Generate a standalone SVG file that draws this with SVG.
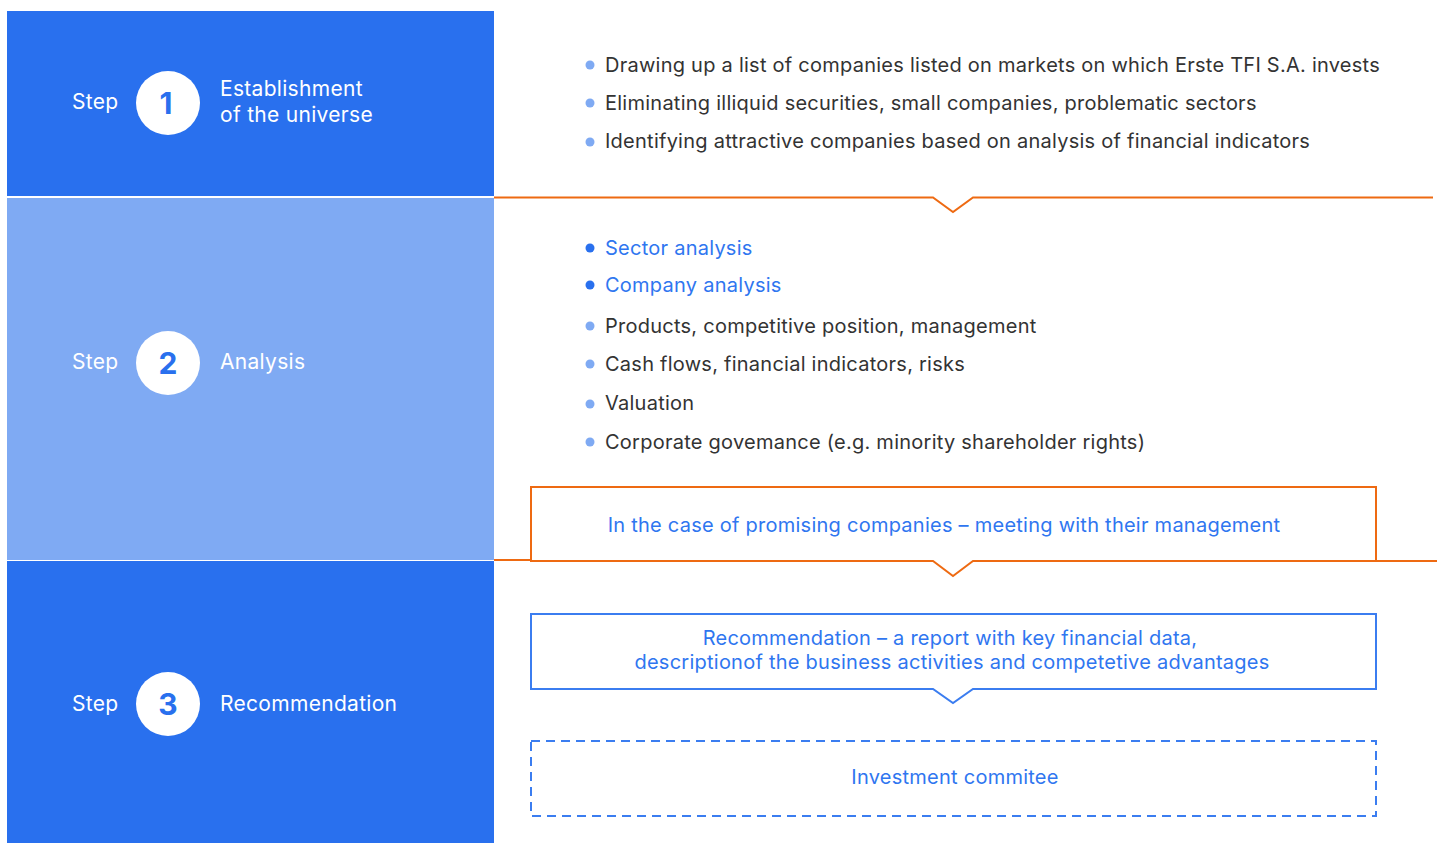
<svg xmlns="http://www.w3.org/2000/svg" width="1443" height="843" viewBox="0 0 1443 843">
<style>
text{font-family:Inter,"Noto Sans","Liberation Sans",sans-serif;font-size:20px;letter-spacing:0.25px}
.w{fill:#ffffff;font-size:21px;letter-spacing:0.3px}
.num{font-size:30px;font-weight:700;fill:#2970EE;text-anchor:middle;letter-spacing:0}
.g{fill:#333333}
.b{fill:#2F76F0}
.c{text-anchor:middle}
.dl{fill:#7FAAF3}
.dd{fill:#2970EE}
.or{fill:none;stroke:#EE6A12;stroke-width:2}
.bl{fill:none;stroke:#3B7DF0;stroke-width:2}
</style>
<rect width="1443" height="843" fill="#ffffff"/>
<g id="step1">
<rect x="7" y="11" width="487" height="185" fill="#2970EE"/>
<text x="72" y="109" class="w">Step</text>
<circle cx="168" cy="103" r="32" fill="#ffffff"/>
<text x="166" y="114" class="num">1</text>
<text x="220" y="96" class="w">Establishment</text>
<text x="220" y="122" class="w">of the universe</text>
</g>
<g id="step2">
<rect x="7" y="198" width="487" height="362" fill="#7FAAF3"/>
<text x="72" y="369" class="w">Step</text>
<circle cx="168" cy="363" r="32" fill="#ffffff"/>
<text x="168" y="374" class="num">2</text>
<text x="220" y="369" class="w">Analysis</text>
</g>
<g id="step3">
<rect x="7" y="561" width="487" height="282" fill="#2970EE"/>
<text x="72" y="711" class="w">Step</text>
<circle cx="168" cy="704" r="32" fill="#ffffff"/>
<text x="168" y="715" class="num">3</text>
<text x="220" y="711" class="w">Recommendation</text>
</g>
<g id="list1">
<circle cx="590" cy="65" r="4.5" class="dl"/>
<text x="605" y="72" class="g">Drawing up a list of companies listed on markets on which Erste TFI S.A. invests</text>
<circle cx="590" cy="103" r="4.5" class="dl"/>
<text x="605" y="110" class="g">Eliminating illiquid securities, small companies, problematic sectors</text>
<circle cx="590" cy="142" r="4.5" class="dl"/>
<text x="605" y="148" class="g">Identifying attractive companies based on analysis of financial indicators</text>
</g>
<g id="list2">
<circle cx="590" cy="248" r="4.5" class="dd"/>
<text x="605" y="255" class="b">Sector analysis</text>
<circle cx="590" cy="285" r="4.5" class="dd"/>
<text x="605" y="292" class="b">Company analysis</text>
<circle cx="590" cy="326" r="4.5" class="dl"/>
<text x="605" y="333" class="g">Products, competitive position, management</text>
<circle cx="590" cy="364" r="4.5" class="dl"/>
<text x="605" y="371" class="g">Cash flows, financial indicators, risks</text>
<circle cx="590" cy="404" r="4.5" class="dl"/>
<text x="605" y="410" class="g">Valuation</text>
<circle cx="590" cy="442" r="4.5" class="dl"/>
<text x="605" y="449" class="g">Corporate govemance (e.g. minority shareholder rights)</text>
</g>
<g id="connectors">
<path class="or" d="M494 197.5 H933 L953 212 L973 197.5 H1433"/>
<path class="or" d="M494 560 H531"/>
<path class="or" d="M1376 561 H1437"/>
</g>
<g id="meeting">
<path class="or" d="M531 487 H1376 V561 H973 L953 576 L933 561 H531 Z"/>
<text x="944" y="532" class="b c">In the case of promising companies – meeting with their management</text>
</g>
<g id="recommendation">
<path class="bl" d="M531 614 H1376 V689 H973 L953 703 L933 689 H531 Z"/>
<text x="950" y="645" class="b c">Recommendation – a report with key financial data,</text>
<text x="952" y="669" class="b c">descriptionof the business activities and competetive advantages</text>
</g>
<g id="committee">
<rect x="531" y="741" width="845" height="75" class="bl" stroke-dasharray="9 6"/>
<text x="955" y="784" class="b c">Investment commitee</text>
</g>
</svg>
